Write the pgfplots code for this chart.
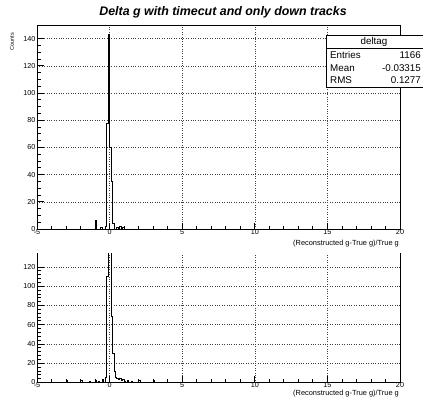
\documentclass[border=0pt]{standalone}
\usepackage{fontspec}
\setmainfont{Liberation Sans}
\usepackage{pgfplots}
\pgfplotsset{compat=1.18}
\begin{document}
\begin{tikzpicture}
\useasboundingbox (0pt,0pt) rectangle (423pt,-399pt);
\pgfplotsset{
 hist/.style={
  scale only axis, width=363pt, xmin=-5, xmax=20,
  xtick={-5,0,...,20}, minor x tick num=4,
  xtick pos=lower, ytick pos=left,
  tick align=inside,
  major tick length=6.5pt, minor tick length=3.5pt,
  grid=major, major grid style={dotted, black!75, line width=0.5pt},
  axis line style={line width=0.9pt},
  every tick/.style={black, line width=0.8pt},
  tick label style={font=\fontsize{7.2}{8}\selectfont},
  /pgf/number format/assume math mode=true,
  xticklabel style={inner sep=0.2pt},
  yticklabel style={inner sep=1.5pt},
 }
}
\begin{axis}[hist, at={(37pt,-25pt)}, anchor=north west, height=204pt, ymin=0, ymax=150,
  ytick={0,20,...,140}, minor y tick num=3]
\addplot[const plot mark left, black, line width=0.8pt] coordinates {
(-5,0) (-1.0,6) (-0.9,0) (-0.6,1) (-0.5,0) (-0.3,2) (-0.2,78) (-0.1,143) (0.0,60) (0.1,35) (0.2,4) (0.3,0) (0.5,1) (0.6,0) (0.7,2) (0.8,0) (0.9,1) (1.0,0) (20,0)};
\end{axis}
\begin{axis}[hist, at={(37pt,-382.5pt)}, anchor=south west, height=129.5pt, ymin=0, ymax=134.5,
  ytick={0,20,...,120}, minor y tick num=4,
  axis x line*=bottom, axis y line*=left, axis line style={-, line width=0.9pt}]
\addplot[const plot mark left, black, line width=0.8pt] coordinates {
(-5,0) (-3.0,2) (-2.9,0) (-2.0,2) (-1.9,0) (-1.4,1) (-1.3,0) (-1.0,2) (-0.9,0) (-0.8,1) (-0.7,0) (-0.5,3) (-0.4,0) (-0.3,5) (-0.2,110) (-0.1,400) (0.0,180) (0.1,69) (0.2,30) (0.3,12) (0.4,5) (0.5,4) (0.6,3) (0.7,4) (0.8,2) (0.9,3) (1.0,1) (1.1,0) (1.2,2) (1.3,0) (1.5,1) (1.6,0) (2.0,2) (2.1,0) (3.0,2) (3.1,0) (20,0)};
\end{axis}
\draw[line width=0.9pt] (400pt,-253pt) -- (400pt,-382.5pt);
% titles
\node[font=\fontsize{12.4}{13}\selectfont\bfseries\itshape] at (223pt,-12pt) {Delta g with timecut and only down tracks};
\node[rotate=90, anchor=east, font=\fontsize{5.5}{6}\selectfont, inner sep=0pt] at (12pt,-33pt) {Counts};
\node[anchor=east, font=\fontsize{7.4}{8}\selectfont, inner sep=0pt] at (399pt,-243.5pt) {(Reconstructed g-True g)/True g};
\node[anchor=east, font=\fontsize{7.4}{8}\selectfont, inner sep=0pt] at (399pt,-394pt) {(Reconstructed g-True g)/True g};
% stats box
\filldraw[fill=white, draw=black, line width=0.8pt] (326pt,-35pt) rectangle (423pt,-87pt);
\draw[line width=0.6pt] (326pt,-48pt) -- (423pt,-48pt);
\node[font=\fontsize{9.8}{10}\selectfont, inner sep=0pt] at (374pt,-41.5pt) {deltag};
\node[anchor=west, font=\fontsize{9.8}{10}\selectfont, inner sep=0pt] at (330pt,-55pt) {Entries};
\node[anchor=east, font=\fontsize{9.8}{10}\selectfont, inner sep=0pt] at (421pt,-55pt) {1166};
\node[anchor=west, font=\fontsize{9.8}{10}\selectfont, inner sep=0pt] at (330pt,-68pt) {Mean};
\node[anchor=east, font=\fontsize{9.8}{10}\selectfont, inner sep=0pt] at (421pt,-68pt) {-0.03315};
\node[anchor=west, font=\fontsize{9.8}{10}\selectfont, inner sep=0pt] at (330pt,-80.5pt) {RMS};
\node[anchor=east, font=\fontsize{9.8}{10}\selectfont, inner sep=0pt] at (421pt,-80.5pt) {0.1277};
\end{tikzpicture}
\end{document}
